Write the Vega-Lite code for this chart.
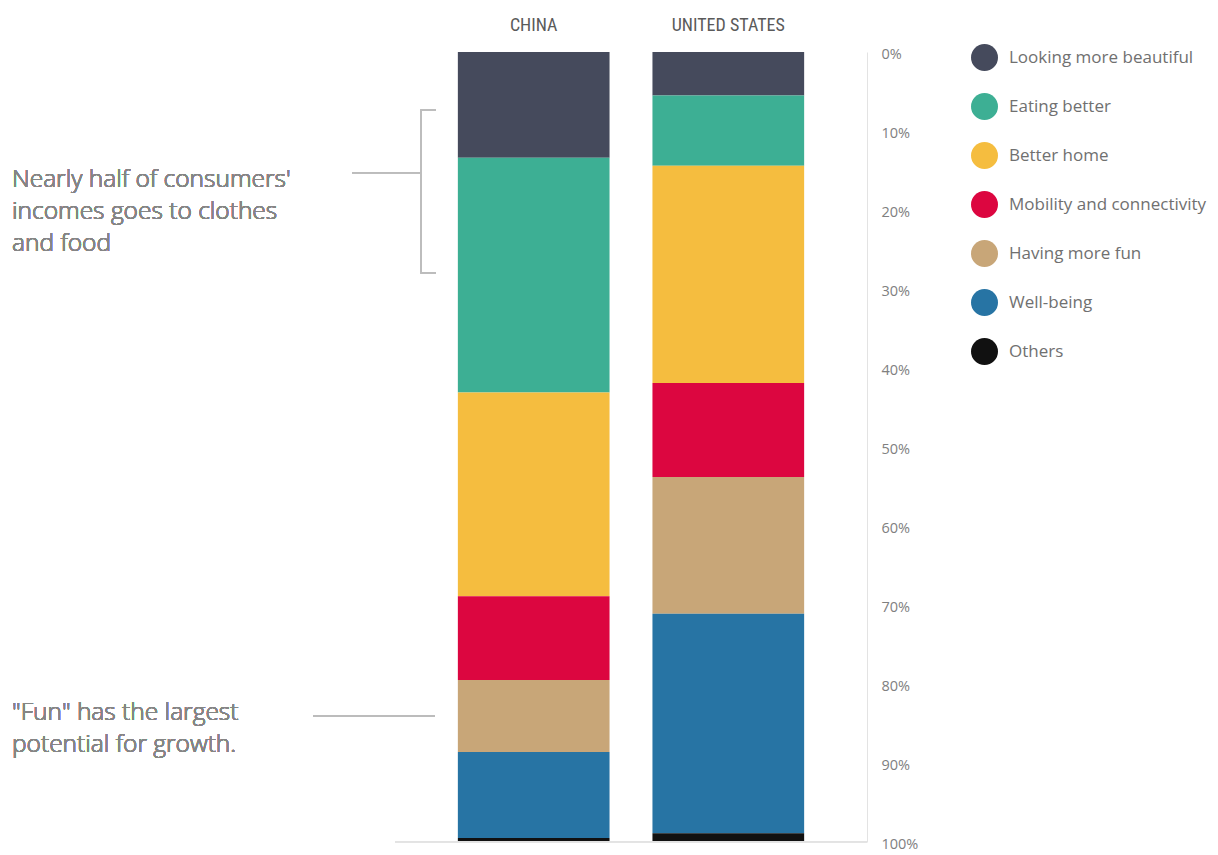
{
  "$schema": "https://vega.github.io/schema/vega-lite/v6.json",
  "width": 472,
  "height": 790,
  "autosize": {"type": "none"},
  "padding": {"left": 395, "top": 52, "right": 351, "bottom": 13},
  "background": "white",
  "config": {"view": {"stroke": null}, "font": "Open Sans"},
  "data": {
    "values": [
      {"country": "CHINA", "category": "Looking more beautiful", "rank": 1, "share": 13.4},
      {"country": "CHINA", "category": "Eating better", "rank": 2, "share": 29.7},
      {"country": "CHINA", "category": "Better home", "rank": 3, "share": 25.8},
      {"country": "CHINA", "category": "Mobility and connectivity", "rank": 4, "share": 10.6},
      {"country": "CHINA", "category": "Having more fun", "rank": 5, "share": 9.1},
      {"country": "CHINA", "category": "Well-being", "rank": 6, "share": 10.9},
      {"country": "CHINA", "category": "Others", "rank": 7, "share": 0.5},
      {"country": "UNITED STATES", "category": "Looking more beautiful", "rank": 1, "share": 5.5},
      {"country": "UNITED STATES", "category": "Eating better", "rank": 2, "share": 8.9},
      {"country": "UNITED STATES", "category": "Better home", "rank": 3, "share": 27.5},
      {"country": "UNITED STATES", "category": "Mobility and connectivity", "rank": 4, "share": 11.9},
      {"country": "UNITED STATES", "category": "Having more fun", "rank": 5, "share": 17.3},
      {"country": "UNITED STATES", "category": "Well-being", "rank": 6, "share": 27.8},
      {"country": "UNITED STATES", "category": "Others", "rank": 7, "share": 1.1}
    ]
  },
  "layer": [
    {
      "mark": {"type": "bar"},
      "encoding": {
        "x": {
          "field": "country",
          "type": "nominal",
          "sort": ["CHINA", "UNITED STATES"],
          "scale": {"paddingInner": 0.2205, "paddingOuter": 0.323},
          "axis": {
            "orient": "top",
            "title": null,
            "domain": false,
            "ticks": false,
            "labelAngle": 0,
            "labelPadding": 18,
            "labelFontSize": 18,
            "labelColor": "#5a5a5a",
            "labelFont": "Liberation Sans Narrow, Roboto Condensed, DejaVu Sans Condensed, sans-serif"
          }
        },
        "y": {
          "field": "share",
          "type": "quantitative",
          "stack": "zero",
          "scale": {"domain": [0, 100], "reverse": true, "nice": false},
          "axis": {
            "orient": "right",
            "title": null,
            "values": [0, 10, 20, 30, 40, 50, 60, 70, 80, 90, 100],
            "labelExpr": "datum.value + '%'",
            "grid": false,
            "ticks": false,
            "domain": true,
            "domainColor": "#e3e3e3",
            "labelPadding": 14,
            "labelFontSize": 14.5,
            "labelColor": "#808080",
            "labelOffset": 2,
            "labelFlush": false,
            "labelOverlap": false,
            "labelFont": "Open Sans"
          }
        },
        "color": {
          "field": "category",
          "type": "nominal",
          "sort": ["Looking more beautiful", "Eating better", "Better home", "Mobility and connectivity", "Having more fun", "Well-being", "Others"],
          "scale": {
            "domain": ["Looking more beautiful", "Eating better", "Better home", "Mobility and connectivity", "Having more fun", "Well-being", "Others"],
            "range": ["#454a5c", "#3daf94", "#f5bd3f", "#dc0640", "#c8a678", "#2774a4", "#111111"]
          },
          "legend": {
            "orient": "none",
            "legendX": 576,
            "legendY": -8,
            "title": null,
            "symbolType": "circle",
            "symbolSize": 729,
            "symbolStrokeWidth": 0,
            "symbolOpacity": 1,
            "labelFontSize": 17,
            "labelColor": "#707070",
            "labelFont": "Open Sans",
            "rowPadding": 22,
            "labelOffset": 11,
            "labelLimit": 300,
            "padding": 0
          }
        },
        "order": {"field": "rank", "type": "quantitative"}
      }
    },
    {
      "mark": {"type": "rule", "color": "#e3e3e3", "strokeWidth": 1},
      "encoding": {"y": {"datum": 100}}
    },
    {
      "mark": {"type": "rule", "color": "#bdbdbd", "strokeWidth": 1.3},
      "encoding": {"x": {"value": 26}, "y": {"datum": 7.3}, "y2": {"datum": 28}}
    },
    {
      "mark": {"type": "rule", "color": "#bdbdbd", "strokeWidth": 1.3},
      "encoding": {"x": {"value": 26}, "x2": {"value": 41}, "y": {"datum": 7.3}}
    },
    {
      "mark": {"type": "rule", "color": "#bdbdbd", "strokeWidth": 1.3},
      "encoding": {"x": {"value": 26}, "x2": {"value": 41}, "y": {"datum": 28}}
    },
    {
      "mark": {"type": "rule", "color": "#bdbdbd", "strokeWidth": 1.3},
      "encoding": {"x": {"value": -43}, "x2": {"value": 26}, "y": {"datum": 15.3}}
    },
    {
      "mark": {"type": "rule", "color": "#bdbdbd", "strokeWidth": 1.3},
      "encoding": {"x": {"value": -82}, "x2": {"value": 40}, "y": {"datum": 84.05}}
    },
    {
      "mark": {"type": "text", "align": "left", "baseline": "alphabetic", "fontSize": 24.5, "lineHeight": 32, "font": "Open Sans", "fontWeight": 300, "color": "#858585"},
      "encoding": {
        "x": {"value": -383},
        "y": {"datum": 17.1},
        "text": {"value": ["Nearly half of consumers'", "incomes goes to clothes", "and food"]}
      }
    },
    {
      "mark": {"type": "text", "align": "left", "baseline": "alphabetic", "fontSize": 24.5, "lineHeight": 32, "font": "Open Sans", "fontWeight": 300, "color": "#858585"},
      "encoding": {
        "x": {"value": -383},
        "y": {"datum": 84.6},
        "text": {"value": ["\"Fun\" has the largest", "potential for growth."]}
      }
    }
  ]
}
